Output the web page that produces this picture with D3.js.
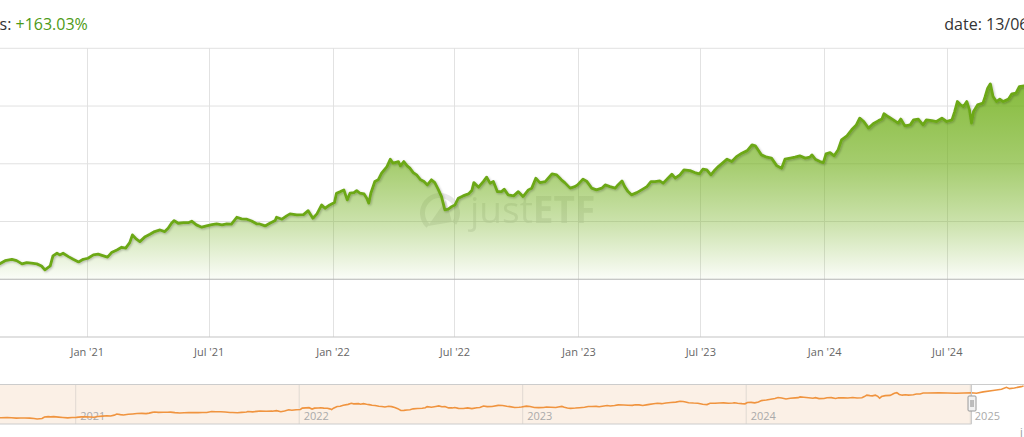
<!DOCTYPE html>
<html><head><meta charset="utf-8">
<script src="https://cdn.jsdelivr.net/npm/d3@7"></script>
<style>
html,body{margin:0;padding:0;background:#fff;overflow:hidden}
svg{display:block;font-family:"Open Sans",sans-serif}
</style>
</head><body><svg id="c" width="1024" height="437"></svg>
<script>
// ---------- DATA ----------
const dates = [
"2020-08-18","2020-09-01","2020-09-11","2020-09-18","2020-09-26","2020-10-03","2020-10-10","2020-10-18","2020-10-25","2020-10-30",
"2020-11-07","2020-11-11","2020-11-17","2020-11-21","2020-11-26","2020-12-04","2020-12-11","2020-12-19","2020-12-26","2021-01-02",
"2021-01-10","2021-01-17","2021-01-25","2021-01-31","2021-02-06","2021-02-14","2021-02-21","2021-02-27","2021-03-05","2021-03-09",
"2021-03-15","2021-03-20","2021-03-28","2021-04-04","2021-04-11","2021-04-19","2021-04-26","2021-05-01","2021-05-06","2021-05-10",
"2021-05-16","2021-05-24","2021-05-31","2021-06-05","2021-06-12","2021-06-20","2021-06-27","2021-07-05","2021-07-12","2021-07-20",
"2021-07-27","2021-08-03","2021-08-11","2021-08-18","2021-08-26","2021-09-02","2021-09-10","2021-09-14","2021-09-22","2021-09-29",
"2021-10-07","2021-10-09","2021-10-17","2021-10-24","2021-10-29","2021-11-08","2021-11-18","2021-11-25","2021-12-02","2021-12-08",
"2021-12-15","2021-12-20","2021-12-27","2022-01-03","2022-01-06","2022-01-12","2022-01-17","2022-01-22","2022-01-26","2022-02-01",
"2022-02-05","2022-02-10","2022-02-16","2022-02-20","2022-02-23","2022-02-26","2022-03-04","2022-03-09","2022-03-14","2022-03-22",
"2022-03-27","2022-03-31","2022-04-08","2022-04-11","2022-04-16","2022-04-21","2022-04-25","2022-04-30","2022-05-05","2022-05-11",
"2022-05-16","2022-05-21","2022-05-27","2022-06-01","2022-06-06","2022-06-11","2022-06-16","2022-06-21","2022-06-26","2022-07-01",
"2022-07-06","2022-07-13","2022-07-21","2022-07-26","2022-07-29","2022-08-05","2022-08-12","2022-08-17","2022-08-22","2022-08-27",
"2022-09-02","2022-09-08","2022-09-12","2022-09-18","2022-09-26","2022-10-03","2022-10-10","2022-10-18","2022-10-23","2022-10-29",
"2022-11-04","2022-11-12","2022-11-22","2022-11-29","2022-12-06","2022-12-11","2022-12-19","2022-12-26","2022-12-30","2023-01-07",
"2023-01-13","2023-01-20","2023-01-27","2023-02-04","2023-02-09","2023-02-16","2023-02-24","2023-02-28","2023-03-06","2023-03-10",
"2023-03-15","2023-03-20","2023-03-28","2023-04-04","2023-04-12","2023-04-18","2023-04-24","2023-05-01","2023-05-06","2023-05-11",
"2023-05-19","2023-05-24","2023-05-31","2023-06-06","2023-06-15","2023-06-22","2023-06-29","2023-07-04","2023-07-10","2023-07-16",
"2023-07-22","2023-07-27","2023-08-03","2023-08-09","2023-08-16","2023-08-23","2023-08-31","2023-09-08","2023-09-15","2023-09-20",
"2023-09-24","2023-09-29","2023-10-07","2023-10-14","2023-10-22","2023-10-29","2023-11-03","2023-11-11","2023-11-18","2023-11-25",
"2023-12-03","2023-12-10","2023-12-13","2023-12-18","2023-12-25","2023-12-30","2024-01-03","2024-01-09","2024-01-15","2024-01-21",
"2024-01-26","2024-02-03","2024-02-10","2024-02-17","2024-02-22","2024-02-28","2024-03-06","2024-03-13","2024-03-21","2024-03-26",
"2024-03-29","2024-04-04","2024-04-12","2024-04-19","2024-04-23","2024-04-29","2024-05-07","2024-05-12","2024-05-19","2024-05-26",
"2024-05-31","2024-06-08","2024-06-15","2024-06-23","2024-06-30","2024-07-08","2024-07-12","2024-07-16","2024-07-21","2024-07-25",
"2024-07-30","2024-08-03","2024-08-06","2024-08-09","2024-08-15","2024-08-23","2024-08-26","2024-08-30","2024-09-03","2024-09-07",
"2024-09-12","2024-09-17","2024-09-22","2024-09-30","2024-10-05","2024-10-11","2024-10-16","2024-10-23","2024-11-11","2024-12-09",
"2025-01-03","2025-01-11","2025-01-22","2025-02-07","2025-02-21","2025-03-01","2025-03-06","2025-03-14","2025-03-25","2025-03-29"
];
const values = [
11.5,16.1,17.3,16.1,13.3,14.4,13.9,13.3,11.5,8.1,
11.5,20.2,22.5,21.1,22.5,19.6,17.3,15.0,17.3,18.2,
21.1,21.7,20.2,19.1,23.1,25.4,27.7,26.9,31.7,38.4,
34.7,32.6,36.9,39.0,41.3,42.7,41.3,44.2,48.5,50.8,
48.5,49.0,49.0,50.3,47.1,45.1,46.2,47.3,47.9,47.1,
47.9,47.7,53.7,52.3,52.0,50.5,47.9,47.9,46.2,48.5,
50.8,53.7,52.0,54.9,56.6,55.7,56.0,59.4,52.9,56.6,
64.4,61.5,64.4,66.4,74.5,75.9,77.4,68.7,74.5,75.0,
76.8,74.5,73.9,70.2,65.9,74.5,84.6,86.1,91.9,97.6,
104.0,100.5,101.9,98.2,101.9,98.2,96.2,92.4,90.4,86.1,
84.6,81.7,86.1,83.7,78.0,71.6,60.1,60.7,62.9,64.4,
70.2,72.2,73.9,76.8,83.7,79.7,84.6,88.4,83.2,84.6,
75.9,75.9,78.0,73.1,72.2,75.9,71.6,77.4,78.9,87.5,
83.7,84.6,91.3,90.4,86.1,83.7,78.9,80.2,81.7,86.7,
84.6,78.9,77.4,78.9,81.7,80.2,78.9,81.7,85.2,80.2,
75.9,73.1,75.0,77.4,80.2,84.6,84.6,85.2,83.2,86.1,
91.0,87.5,90.4,94.7,94.1,92.4,91.3,95.3,94.7,90.4,
94.7,97.6,101.0,104.0,101.9,106.2,109.2,111.4,116.4,115.5,
112.1,107.7,105.7,104.9,98.2,96.2,104.0,104.9,105.7,106.9,
104.9,105.7,107.7,104.0,101.9,101.0,108.6,109.7,106.9,112.1,
120.7,124.2,129.4,133.7,139.5,136.6,130.9,134.6,137.4,138.7,
143.3,140.9,138.0,135.2,138.7,132.8,133.7,138.0,138.7,133.7,
138.0,137.4,136.6,139.5,136.6,138.0,145.2,153.9,151.0,149.6,
153.9,146.7,135.2,145.2,151.0,152.5,157.7,165.5,169.2,158.2,
153.9,156.0,153.9,156.0,160.6,161.2,166.9,167.5,169,166,
169,166,174,182,190,202,194,198,206,210
];
const tickDates  = ["2021-01-01","2021-07-01","2022-01-01","2022-07-01","2023-01-01","2023-07-01","2024-01-01","2024-07-01"];
const tickLabels = ["Jan '21","Jul '21","Jan '22","Jul '22","Jan '23","Jul '23","Jan '24","Jul '24"];
const yGridValues = [-50, 0, 50, 100, 150, 200];
const navYearDates  = ["2021-01-01","2022-01-01","2023-01-01","2024-01-01","2025-01-01"];
const navYearLabels = ["2021","2022","2023","2024","2025"];
const selectionEnd = "2025-01-03";
const headlinePrefix = "s: ";
const headlineValue = "+163.03%";
const dateLabel = "date: 13/06/2025";

// ---------- CHART ----------
const parse = d3.utcParse("%Y-%m-%d");
const series = dates.map((d, i) => ({ date: parse(d), value: values[i] }));
const svg = d3.select("#c");

const x = d3.scaleUtc().domain([parse("2021-01-01"), parse("2024-01-01")]).range([87.3, 824.7]);
const y = d3.scaleLinear().domain([-50, 200]).range([337, 48.3]);

const defs = svg.append("defs");
const grad = defs.append("linearGradient").attr("id", "areaGrad")
  .attr("gradientUnits", "userSpaceOnUse")
  .attr("x1", 0).attr("x2", 0).attr("y1", y(165)).attr("y2", y(0));
[[0, 0.84], [0.394, 0.64], [0.699, 0.37], [1, 0.03]].forEach(([o, a]) =>
  grad.append("stop").attr("offset", o).attr("stop-color", "#72b01c").attr("stop-opacity", a));
const f = defs.append("filter").attr("id", "shadow").attr("x", "-5%").attr("y", "-20%").attr("width", "110%").attr("height", "140%");
f.append("feDropShadow").attr("dx", 1).attr("dy", 1).attr("stdDeviation", 1).attr("flood-color", "#000").attr("flood-opacity", 0.25);

// grid
svg.append("g").selectAll("line").data(tickDates).join("line")
  .attr("x1", d => x(parse(d))).attr("x2", d => x(parse(d)))
  .attr("y1", y(200)).attr("y2", y(-50))
  .attr("stroke", "#e2e2e2").attr("stroke-width", 1).attr("shape-rendering", "crispEdges");
svg.append("g").selectAll("line").data(yGridValues).join("line")
  .attr("x1", 0).attr("x2", 1024)
  .attr("y1", d => y(d)).attr("y2", d => y(d))
  .attr("stroke", d => d === 0 ? "#b4b4b4" : (d === -50 ? "#c4c4c4" : "#e2e2e2"))
  .attr("stroke-width", d => (d === 0 || d === -50) ? 1.2 : 1);

// watermark
const wm = svg.append("g").attr("opacity", 0.55);
wm.append("path")
  .attr("d", d3.arc()({ innerRadius: 15, outerRadius: 20, startAngle: -2.4, endAngle: 2.2 }))
  .attr("transform", "translate(440,213)").attr("fill", "#d6d6d6");
wm.append("path").attr("d", "M428,226 L446,200 L452,222 Z").attr("fill", "#d6d6d6");
const wmt = wm.append("text").attr("x", 470).attr("y", 223).attr("font-size", 37).attr("fill", "#d6d6d6");
wmt.append("tspan").attr("font-weight", 400).text("just");
wmt.append("tspan").attr("font-weight", 700).text("ETF");

// area + line
svg.append("path").datum(series)
  .attr("d", d3.area().x(d => x(d.date)).y0(y(0)).y1(d => y(d.value)))
  .attr("fill", "url(#areaGrad)");
svg.append("path").datum(series)
  .attr("d", d3.line().x(d => x(d.date)).y(d => y(d.value)))
  .attr("fill", "none").attr("stroke", "#6ca819").attr("stroke-width", 2.8)
  .attr("stroke-linejoin", "round").attr("filter", "url(#shadow)");

// x-axis labels
svg.append("g").selectAll("text").data(tickDates).join("text")
  .attr("x", (d) => x(parse(d))).attr("y", 355.5)
  .attr("text-anchor", "middle").attr("font-size", 11).attr("fill", "#666")
  .text((d, i) => tickLabels[i]);

// header
const h = svg.append("text").attr("x", -0.5).attr("y", 30).attr("font-size", 16).attr("fill", "#333");
h.append("tspan").text(headlinePrefix);
h.append("tspan").attr("fill", "#4d9a16").text(headlineValue);
svg.append("text").attr("x", 944.3).attr("y", 30).attr("font-size", 16).attr("fill", "#333").text(dateLabel);

// ---------- NAVIGATOR ----------
const nx = d3.scaleUtc().domain([parse("2021-01-01"), parse("2025-01-01")]).range([75.7, 970.3]);
const ny = d3.scaleLinear().domain(d3.extent(values)).range([419, 386]);
const navTop = 384, navBot = 424;
const selX = nx(parse(selectionEnd));
svg.append("rect").attr("x", 0).attr("y", navTop).attr("width", selX).attr("height", navBot - navTop).attr("fill", "#fbf0e6");
svg.append("g").selectAll("line").data(navYearDates).join("line")
  .attr("x1", d => nx(parse(d))).attr("x2", d => nx(parse(d)))
  .attr("y1", navTop).attr("y2", navBot)
  .attr("stroke", "#e0d9d2").attr("stroke-width", 1);
svg.append("g").selectAll("text").data(navYearDates).join("text")
  .attr("x", d => nx(parse(d)) + 4.5).attr("y", 420)
  .attr("font-size", 11).attr("fill", "#aaa")
  .text((d, i) => navYearLabels[i]);
svg.append("path").datum(series)
  .attr("d", d3.line().x(d => nx(d.date)).y(d => ny(d.value)))
  .attr("fill", "none").attr("stroke", "#f0943f").attr("stroke-width", 1.6);
// outline
svg.append("path")
  .attr("d", `M0,${navTop + 0.5}H1024M0,${navBot}H${selX}V${navTop}`)
  .attr("fill", "none").attr("stroke", "#cccccc").attr("stroke-width", 1);
// handle
const hg = svg.append("g").attr("transform", `translate(${selX},0)`);
hg.append("rect").attr("x", -3.5).attr("y", 396).attr("width", 8).attr("height", 15).attr("rx", 1)
  .attr("fill", "#f2f2f2").attr("stroke", "#999").attr("stroke-width", 1);
hg.append("line").attr("x1", -0.5).attr("x2", -0.5).attr("y1", 400).attr("y2", 407).attr("stroke", "#888");
hg.append("line").attr("x1", 1.5).attr("x2", 1.5).attr("y1", 400).attr("y2", 407).attr("stroke", "#888");

svg.append("text").attr("x", 1020).attr("y", 436).attr("font-size", 11).attr("fill", "#999").text("j");
</script>
</body></html>
